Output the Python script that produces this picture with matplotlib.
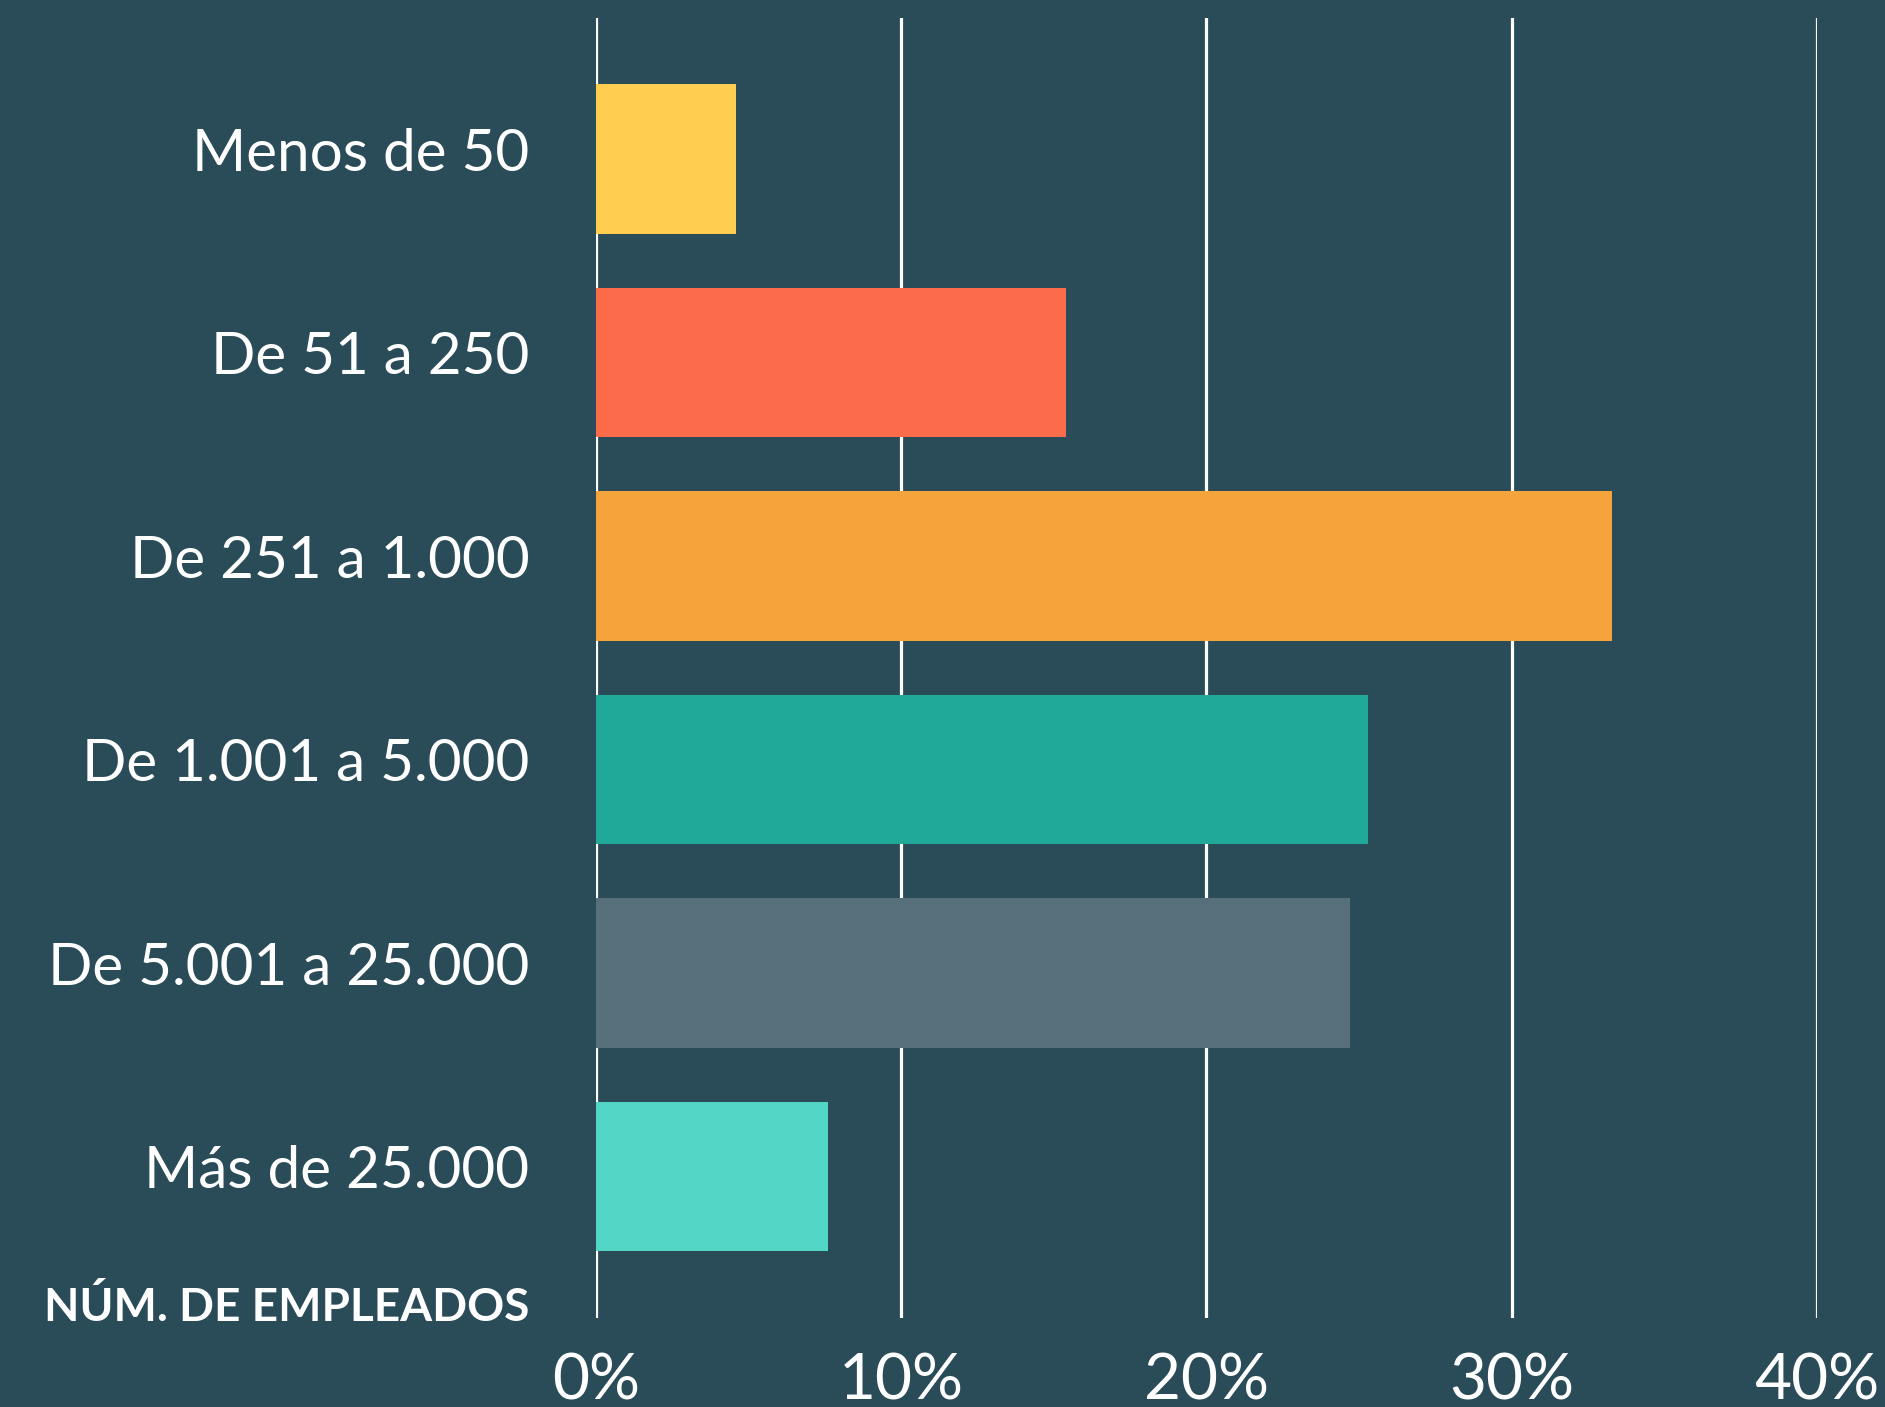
import matplotlib
matplotlib.use("Agg")
import matplotlib.pyplot as plt
import matplotlib.transforms as mtransforms

# data
categories = ["Menos de 50", "De 51 a 250", "De 251 a 1.000",
              "De 1.001 a 5.000", "De 5.001 a 25.000", "Más de 25.000"]
values = [4.6, 15.4, 33.3, 25.3, 24.7, 7.6]
bar_colors = ["#FFCD4F", "#FC6C4A", "#F5A43C", "#20A998", "#566F7B", "#54D6C6"]
x_ticks = [0, 10, 20, 30, 40]
x_tick_labels = ["0%", "10%", "20%", "30%", "40%"]

bg = "#2A4C59"
plt.rcParams["font.family"] = ["Lato", "DejaVu Sans"]

fig = plt.figure(figsize=(18.85, 14.07), dpi=100, facecolor=bg)
ax = fig.add_axes([0.3162, 0.0633, 0.6477, 0.924])
ax.set_facecolor(bg)

ypos = list(range(len(categories)))
ax.barh(ypos, values, height=0.735, color=bar_colors, zorder=2)

ax.set_xlim(0, 40)
ax.set_ylim(5.695, -0.695)
for t in x_ticks:
    ax.axvline(t, color="white", lw=2.3, zorder=1)

for s in ax.spines.values():
    s.set_visible(False)
ax.tick_params(length=0)
ax.set_xticks(x_ticks)
ax.set_xticklabels(x_tick_labels, fontsize=46, color="white")
ax.tick_params(axis="x", pad=25)
ax.set_yticks(ypos)
ax.set_yticklabels(categories, fontsize=42, color="white")
ax.tick_params(axis="y", pad=48)
# labels sit a little above the bar centre in the reference
shift = mtransforms.ScaledTranslation(0, 10 / 100, fig.dpi_scale_trans)
for lab in ax.get_yticklabels():
    lab.set_transform(lab.get_transform() + shift)

fig.text(529 / 1885, 1 - 1321 / 1407, "NÚM. DE EMPLEADOS", ha="right", va="baseline",
         fontsize=33, color="white", fontweight="bold")

fig.savefig("out.png", dpi=100, facecolor=bg)
